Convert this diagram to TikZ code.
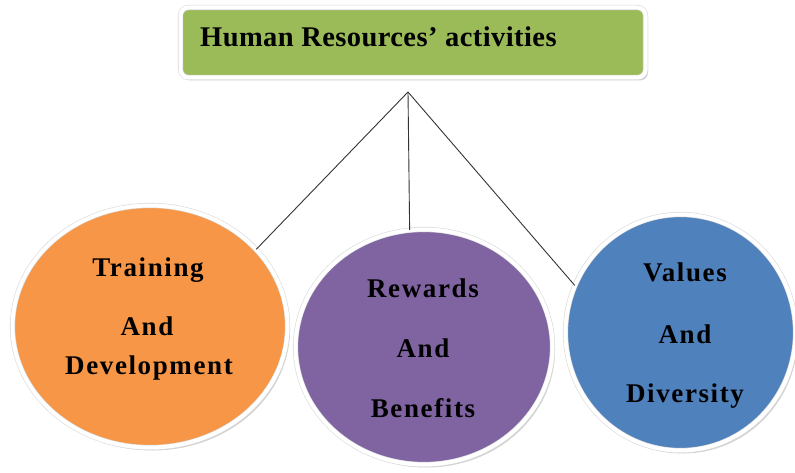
\documentclass[tikz,border=0pt]{standalone}
\usepackage{fontspec}
\setmainfont{Liberation Serif}
\newfontfamily\bubfont[LetterSpace=6]{Liberation Serif}
\newfontfamily\titlefont[LetterSpace=1.5]{Liberation Serif}
\usetikzlibrary{shapes.geometric}
\usetikzlibrary{shadows}
\definecolor{hrgreen}{RGB}{155,187,89}
\definecolor{hrorange}{RGB}{247,150,70}
\definecolor{hrpurple}{RGB}{128,100,162}
\definecolor{hrblue}{RGB}{79,129,189}
\tikzset{
  ring/.style={draw=black!15,double=white,double distance=4pt,line width=0.6pt,
    drop shadow={opacity=0.35,shadow xshift=2.5pt,shadow yshift=-3pt}},
  bubble/.style={ellipse,inner sep=0pt,fill=#1,ring},
  bubtext/.style={anchor=base,inner sep=0pt,font=\bubfont\bfseries\fontsize{27}{32}\selectfont},
  link/.style={draw=black!80,line width=0.9pt}
}

\begin{document}
\begin{tikzpicture}[x=1pt,y=1pt]
  \useasboundingbox (0,0) rectangle (795,472);
  % top box
  \node[ring,fill=hrgreen,rounded corners=8pt,minimum width=465pt,minimum height=70pt] (hr) at (413,429.5) {};
  \node[anchor=base west,inner sep=0pt,font=\titlefont\bfseries\fontsize{28.5}{34}\selectfont] (hr-t) at (200,425) {Human Resources’ activities};

  % circles
  \node[bubble=hrorange,minimum width=275pt,minimum height=242pt] (train) at (150,145.5) {};
  \node[bubble=hrpurple,minimum width=257pt,minimum height=235pt] (reward) at (424,125) {};
  \node[bubble=hrblue,minimum width=230pt,minimum height=236pt] (value) at (680.5,139.5) {};

  \node[bubtext] (train-1) at (148,195.3) {Training};
  \node[bubtext] (train-2) at (147,137) {And};
  \node[bubtext] (train-3) at (149,98) {Development};

  \node[bubtext] (reward-1) at (423,174.7) {Rewards};
  \node[bubtext] (reward-2) at (423,114.7) {And};
  \node[bubtext] (reward-3) at (423,54.7) {Benefits};

  \node[bubtext] (value-1) at (685,190.3) {Values};
  \node[bubtext] (value-2) at (685,128.7) {And};
  \node[bubtext] (value-3) at (685,69.3) {Diversity};

  % connectors
  \coordinate (hub) at (408,380);
  \draw[link] (hub) -- (train.36);
  \draw[link] (hub) -- (reward.97);
  \draw[link] (hub) -- (value.156);
\end{tikzpicture}
\end{document}
